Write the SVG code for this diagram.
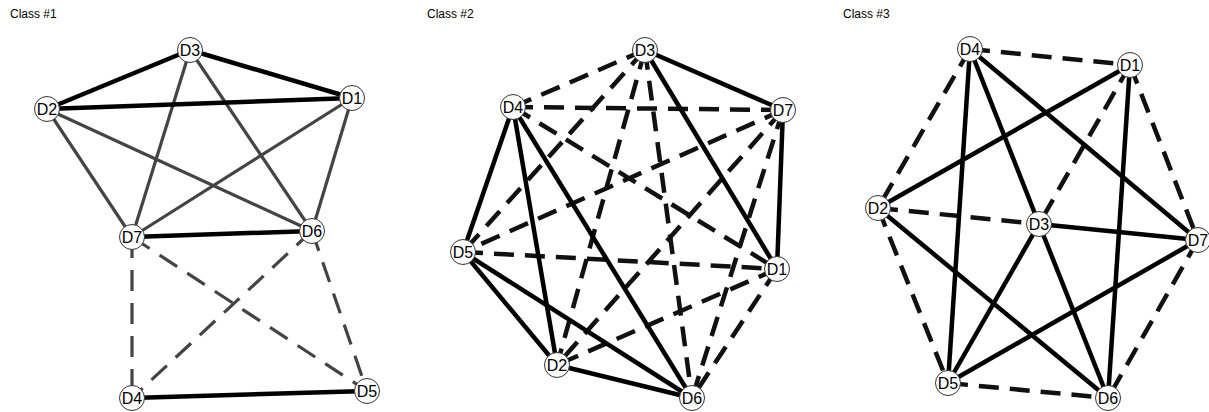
<svg xmlns="http://www.w3.org/2000/svg" width="1209" height="412" viewBox="0 0 1209 412">
<style>
.title{font-family:"Liberation Sans",Arial,sans-serif;font-size:12px;fill:#000}
.nl{font-family:"Liberation Sans",Arial,sans-serif;font-size:16px;fill:#000;text-anchor:middle;dominant-baseline:central}
.nc{fill:#fff;stroke:#333;stroke-width:1}
.e{fill:none;stroke-linecap:butt}
.k{stroke:#000;stroke-width:4.5}
.g{stroke:#444;stroke-width:3.2}
.gd{stroke:#444;stroke-width:3.2;stroke-dasharray:21 12}
.kd{stroke:#111;stroke-width:4.5;stroke-dasharray:20 11}
</style>
<rect width="1209" height="412" fill="#fff"/>
<text class="title" x="10" y="18">Class #1</text>
<text class="title" x="427" y="18">Class #2</text>
<text class="title" x="843" y="18">Class #3</text>

<g id="connectors">
<!-- panel 1 -->
<line class="e g" x1="190" y1="50" x2="132" y2="237"/>
<line class="e g" x1="190" y1="50" x2="312" y2="231"/>
<line class="e g" x1="47" y1="109" x2="132" y2="237"/>
<line class="e g" x1="47" y1="109" x2="312" y2="231"/>
<line class="e g" x1="352" y1="98" x2="132" y2="237"/>
<line class="e g" x1="352" y1="98" x2="312" y2="231"/>
<line class="e gd" x1="132" y1="237" x2="132" y2="398"/>
<line class="e gd" x1="132" y1="237" x2="367" y2="391"/>
<line class="e gd" x1="312" y1="231" x2="132" y2="398"/>
<line class="e gd" x1="312" y1="231" x2="367" y2="391"/>
<line class="e k" x1="190" y1="50" x2="47" y2="109"/>
<line class="e k" x1="190" y1="50" x2="352" y2="98"/>
<line class="e k" x1="47" y1="109" x2="352" y2="98"/>
<line class="e k" x1="132" y1="237" x2="312" y2="231"/>
<line class="e k" x1="132" y1="398" x2="367" y2="391"/>
<!-- panel 2 -->
<line class="e kd" x1="645" y1="50" x2="513" y2="107"/>
<line class="e kd" x1="645" y1="50" x2="463" y2="252"/>
<line class="e kd" x1="645" y1="50" x2="557" y2="365"/>
<line class="e kd" x1="645" y1="50" x2="692" y2="398"/>
<line class="e kd" x1="513" y1="107" x2="783" y2="110"/>
<line class="e kd" x1="513" y1="107" x2="777" y2="269"/>
<line class="e kd" x1="783" y1="110" x2="463" y2="252"/>
<line class="e kd" x1="783" y1="110" x2="557" y2="365"/>
<line class="e kd" x1="783" y1="110" x2="692" y2="398"/>
<line class="e kd" x1="463" y1="252" x2="777" y2="269"/>
<line class="e kd" x1="777" y1="269" x2="557" y2="365"/>
<line class="e kd" x1="777" y1="269" x2="692" y2="398"/>
<line class="e k" x1="645" y1="50" x2="783" y2="110"/>
<line class="e k" x1="645" y1="50" x2="777" y2="269"/>
<line class="e k" x1="783" y1="110" x2="777" y2="269"/>
<line class="e k" x1="513" y1="107" x2="463" y2="252"/>
<line class="e k" x1="513" y1="107" x2="557" y2="365"/>
<line class="e k" x1="513" y1="107" x2="692" y2="398"/>
<line class="e k" x1="463" y1="252" x2="557" y2="365"/>
<line class="e k" x1="463" y1="252" x2="692" y2="398"/>
<line class="e k" x1="557" y1="365" x2="692" y2="398"/>
<!-- panel 3 -->
<line class="e kd" x1="970" y1="49" x2="1130" y2="65"/>
<line class="e kd" x1="970" y1="49" x2="878" y2="208"/>
<line class="e kd" x1="1130" y1="65" x2="1039" y2="224"/>
<line class="e kd" x1="1130" y1="65" x2="1198" y2="240"/>
<line class="e kd" x1="878" y1="208" x2="1039" y2="224"/>
<line class="e kd" x1="878" y1="208" x2="948" y2="383"/>
<line class="e kd" x1="1198" y1="240" x2="1108" y2="398"/>
<line class="e kd" x1="948" y1="383" x2="1108" y2="398"/>
<line class="e k" x1="970" y1="49" x2="948" y2="383"/>
<line class="e k" x1="970" y1="49" x2="1039" y2="224"/>
<line class="e k" x1="970" y1="49" x2="1198" y2="240"/>
<line class="e k" x1="1130" y1="65" x2="878" y2="208"/>
<line class="e k" x1="1130" y1="65" x2="1108" y2="398"/>
<line class="e k" x1="878" y1="208" x2="1108" y2="398"/>
<line class="e k" x1="1039" y1="224" x2="1198" y2="240"/>
<line class="e k" x1="1039" y1="224" x2="948" y2="383"/>
<line class="e k" x1="1039" y1="224" x2="1108" y2="398"/>
<line class="e k" x1="1198" y1="240" x2="948" y2="383"/>
</g>

<!-- panel 1 nodes -->
<g id="p1-D3"><circle class="nc" cx="190" cy="50" r="12.5"/><text class="nl" x="190" y="50">D3</text></g>
<g id="p1-D1"><circle class="nc" cx="352" cy="98" r="12.5"/><text class="nl" x="352" y="98">D1</text></g>
<g id="p1-D2"><circle class="nc" cx="47" cy="109" r="12.5"/><text class="nl" x="47" y="109">D2</text></g>
<g id="p1-D7"><circle class="nc" cx="132" cy="237" r="12.5"/><text class="nl" x="132" y="237">D7</text></g>
<g id="p1-D6"><circle class="nc" cx="312" cy="231" r="12.5"/><text class="nl" x="312" y="231">D6</text></g>
<g id="p1-D4"><circle class="nc" cx="132" cy="398" r="12.5"/><text class="nl" x="132" y="398">D4</text></g>
<g id="p1-D5"><circle class="nc" cx="367" cy="391" r="12.5"/><text class="nl" x="367" y="391">D5</text></g>
<!-- panel 2 nodes -->
<g id="p2-D3"><circle class="nc" cx="645" cy="50" r="12.5"/><text class="nl" x="645" y="50">D3</text></g>
<g id="p2-D4"><circle class="nc" cx="513" cy="107" r="12.5"/><text class="nl" x="513" y="107">D4</text></g>
<g id="p2-D7"><circle class="nc" cx="783" cy="110" r="12.5"/><text class="nl" x="783" y="110">D7</text></g>
<g id="p2-D5"><circle class="nc" cx="463" cy="252" r="12.5"/><text class="nl" x="463" y="252">D5</text></g>
<g id="p2-D1"><circle class="nc" cx="777" cy="269" r="12.5"/><text class="nl" x="777" y="269">D1</text></g>
<g id="p2-D2"><circle class="nc" cx="557" cy="365" r="12.5"/><text class="nl" x="557" y="365">D2</text></g>
<g id="p2-D6"><circle class="nc" cx="692" cy="398" r="12.5"/><text class="nl" x="692" y="398">D6</text></g>
<!-- panel 3 nodes -->
<g id="p3-D4"><circle class="nc" cx="970" cy="49" r="12.5"/><text class="nl" x="970" y="49">D4</text></g>
<g id="p3-D1"><circle class="nc" cx="1130" cy="65" r="12.5"/><text class="nl" x="1130" y="65">D1</text></g>
<g id="p3-D2"><circle class="nc" cx="878" cy="208" r="12.5"/><text class="nl" x="878" y="208">D2</text></g>
<g id="p3-D3"><circle class="nc" cx="1039" cy="224" r="12.5"/><text class="nl" x="1039" y="224">D3</text></g>
<g id="p3-D7"><circle class="nc" cx="1198" cy="240" r="12.5"/><text class="nl" x="1198" y="240">D7</text></g>
<g id="p3-D5"><circle class="nc" cx="948" cy="383" r="12.5"/><text class="nl" x="948" y="383">D5</text></g>
<g id="p3-D6"><circle class="nc" cx="1108" cy="398" r="12.5"/><text class="nl" x="1108" y="398">D6</text></g>
</svg>
